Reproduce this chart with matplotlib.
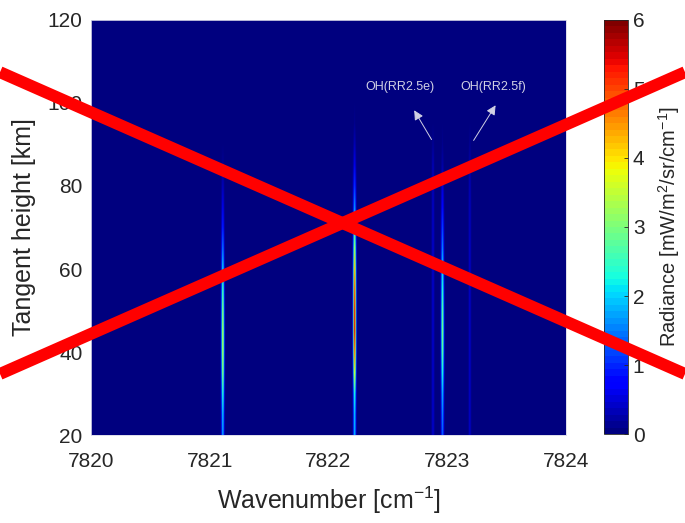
import numpy as np
import matplotlib
matplotlib.use("Agg")
import matplotlib.pyplot as plt
from matplotlib.lines import Line2D

plt.rcParams['font.family'] = ['Liberation Sans', 'DejaVu Sans']
plt.rcParams['mathtext.default'] = 'regular'

# Tangent heights (km) at which the line radiances are tabulated
heights = [20, 25, 30, 35, 40, 45, 50, 55, 60, 65, 70, 75, 80, 85, 90, 95,
           100, 105, 110, 115, 120]

# Line centres (cm^-1)
line_centres = [7821.11, 7822.22, 7822.88, 7822.96, 7823.19]

# Peak radiance of each line vs tangent height (mW/m^2/sr/cm^-1)
line1 = [1.8, 2.0, 2.5, 3.2, 3.5, 3.5, 3.2, 2.7, 2.1, 1.5, 1.0, 0.6, 0.35, 0.15, 0.05, 0.0, 0.0, 0.0, 0.0, 0.0, 0.0]
line2 = [1.9, 2.0, 2.4, 3.8, 5.0, 5.7, 5.6, 5.2, 4.5, 3.4, 2.3, 1.7, 1.1, 0.6, 0.3, 0.1, 0.0, 0.0, 0.0, 0.0, 0.0]
line_e = [0.45, 0.45, 0.45, 0.45, 0.45, 0.45, 0.45, 0.45, 0.45, 0.45, 0.42, 0.4, 0.35, 0.3, 0.15, 0.0, 0.0, 0.0, 0.0, 0.0, 0.0]
line3 = [1.4, 1.6, 1.9, 2.4, 2.9, 3.1, 2.9, 2.5, 2.1, 1.6, 1.2, 0.8, 0.5, 0.25, 0.1, 0.0, 0.0, 0.0, 0.0, 0.0, 0.0]
line_f = [0.4, 0.4, 0.4, 0.4, 0.4, 0.4, 0.4, 0.4, 0.4, 0.4, 0.38, 0.35, 0.3, 0.25, 0.12, 0.0, 0.0, 0.0, 0.0, 0.0, 0.0]
profiles = [line1, line2, line_e, line3, line_f]

line_sigma = 0.008  # Gaussian line-shape width (cm^-1)

wn = np.linspace(7820, 7824, 1601)
h = np.array(heights, dtype=float)
radiance = np.zeros((len(h), len(wn)))
for c, prof in zip(line_centres, profiles):
    shape = np.exp(-0.5 * ((wn - c) / line_sigma) ** 2)
    radiance += np.outer(np.array(prof), shape)

dx = wn[1] - wn[0]
dh = h[1] - h[0]

fig = plt.figure(figsize=(6.85, 5.23), dpi=100)
ax = fig.add_axes([0.1328, 0.168, 0.6934, 0.794])
cax = fig.add_axes([0.8818, 0.170, 0.035, 0.792])

cmap = plt.get_cmap('jet', 64)
img = ax.imshow(radiance, cmap=cmap, vmin=0, vmax=6, origin='lower',
                aspect='auto', interpolation='bilinear',
                extent=(wn[0] - dx / 2, wn[-1] + dx / 2, h[0] - dh / 2, h[-1] + dh / 2))
ax.set_xlim(7820, 7824)
ax.set_ylim(20, 120)
ax.set_xticks([7820, 7821, 7822, 7823, 7824])
ax.set_yticks([20, 40, 60, 80, 100, 120])
ax.tick_params(length=0, labelsize=15, colors='#262626')
ax.tick_params(axis='x', pad=12)
ax.tick_params(axis='y', pad=6)
for s in ax.spines.values():
    s.set_color('#d8d8e8')
    s.set_linewidth(0.6)
ax.set_xlabel('Wavenumber [cm$^{-1}$]', fontsize=18, color='#262626', labelpad=10)
ax.set_ylabel('Tangent height [km]', fontsize=18, color='#262626', labelpad=8)

# Labels for the two weak satellite lines
txt_col = '#d0d0e4'
arrow_kw = dict(arrowstyle='-|>', color=txt_col, lw=0.7, mutation_scale=14)
ax.text(7822.60, 102.4, 'OH(RR2.5e)', ha='center', va='bottom',
        fontsize=9, color=txt_col)
ax.annotate('', xy=(7822.71, 98.8), xytext=(7822.88, 90.6), arrowprops=arrow_kw)
ax.text(7823.39, 102.4, 'OH(RR2.5f)', ha='center', va='bottom',
        fontsize=9, color=txt_col)
ax.annotate('', xy=(7823.42, 100.0), xytext=(7823.21, 90.4), arrowprops=arrow_kw)

cb = fig.colorbar(img, cax=cax)
cb.set_ticks([0, 1, 2, 3, 4, 5, 6])
cb.ax.tick_params(labelsize=15, colors='#262626', length=3, direction='in', width=0.6)
cb.outline.set_edgecolor('#262626')
cb.outline.set_linewidth(0.6)
cb.set_label('Radiance [mW/m$^2$/sr/cm$^{-1}$]', fontsize=14.5, color='#262626', labelpad=8)

# Red cross over the whole figure
for y0, y1 in [(0.862, 0.285), (0.285, 0.862)]:
    fig.add_artist(Line2D([0, 1], [y0, y1], transform=fig.transFigure,
                          color='red', lw=8.6, solid_capstyle='butt', zorder=10))

fig.savefig('out.png', dpi=100)
